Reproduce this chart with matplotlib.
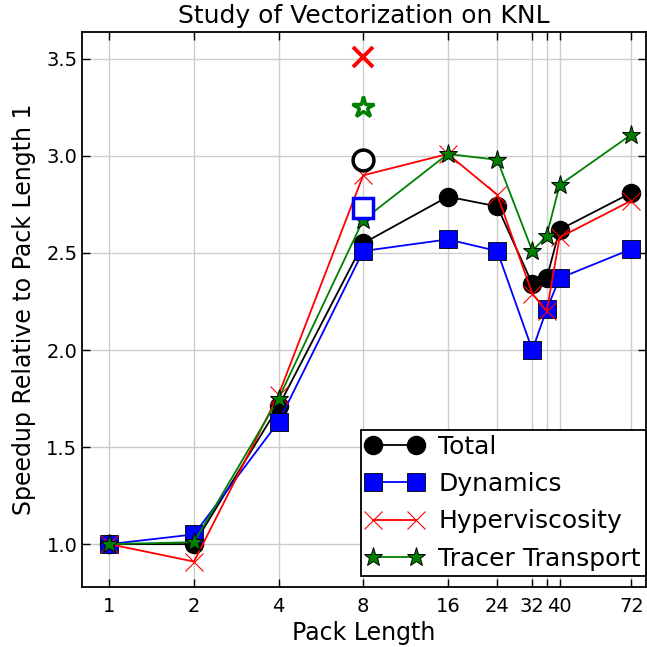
import matplotlib
matplotlib.use("Agg")
import matplotlib.pyplot as plt
from matplotlib.ticker import FixedLocator, NullLocator

# pack lengths and speedups relative to pack length 1
pack = [1, 2, 4, 8, 16, 24, 32, 36, 40, 72]
total = [1.00, 1.00, 1.71, 2.55, 2.79, 2.74, 2.34, 2.37, 2.62, 2.81]
dynamics = [1.00, 1.05, 1.63, 2.51, 2.57, 2.51, 2.00, 2.21, 2.37, 2.52]
hypervis = [1.00, 0.91, 1.77, 2.90, 3.01, 2.80, 2.29, 2.20, 2.58, 2.77]
tracer = [1.00, 1.01, 1.75, 2.67, 3.01, 2.98, 2.51, 2.59, 2.85, 3.11]

# extra runs at pack length 8 (open markers)
extra_x = 8
extra_total = 2.98
extra_dynamics = 2.73
extra_hypervis = 3.51
extra_tracer = 3.25

xtick_vals = [1, 2, 4, 8, 16, 24, 32, 36, 40, 72]
xtick_labels = ["1", "2", "4", "8", "16", "24", "32", "", "40", "72"]
ytick_vals = [1.0, 1.5, 2.0, 2.5, 3.0, 3.5]

plt.rcParams["font.family"] = "DejaVu Sans"

fig = plt.figure(figsize=(6.47, 6.47), dpi=100)
ax = fig.add_axes([0.127, 0.093, 0.871, 0.858])

ax.plot(pack, total, "-o", color="black", lw=1.3, ms=13, mfc="black", mec="black", label="Total")
ax.plot(pack, dynamics, "-s", color="blue", lw=1.3, ms=13, mfc="blue", mec="black", mew=0.6, label="Dynamics")
ax.plot(pack, hypervis, "-x", color="red", lw=1.3, ms=13, mew=0.8, label="Hyperviscosity")
ax.plot(pack, tracer, "-*", color="green", lw=1.3, ms=14, mfc="green", mec="black", mew=0.7, label="Tracer Transport")

ax.plot([extra_x], [extra_total], "o", ms=15, mfc="white", mec="black", mew=2.5)
ax.plot([extra_x], [extra_dynamics], "s", ms=15, mfc="white", mec="blue", mew=2.5)
ax.plot([extra_x], [extra_hypervis], "x", ms=14, mec="red", mew=2.8)
ax.plot([extra_x], [extra_tracer], "*", ms=16, mfc="white", mec="green", mew=2.5)

ax.set_xscale("log", base=2)
ax.set_xlim(0.8, 81)
ax.xaxis.set_major_locator(FixedLocator(xtick_vals))
ax.xaxis.set_minor_locator(NullLocator())
ax.set_xticks(xtick_vals)
ax.set_xticklabels(xtick_labels)
ax.set_yticks(ytick_vals)
ax.set_yticklabels([f"{v:.1f}" for v in ytick_vals])

ax.tick_params(axis="both", which="major", direction="in", length=6, width=1,
               top=True, right=True, labelsize=14)
ax.tick_params(axis="x", pad=7)
ax.tick_params(axis="y", pad=3.5)
for s in ax.spines.values():
    s.set_linewidth(1.3)

ax.grid(True, color="#cccccc", lw=1)
ax.set_axisbelow(True)

ax.set_title("Study of Vectorization on KNL", fontsize=18, pad=6)
ax.set_xlabel("Pack Length", fontsize=17)
ax.set_ylabel("Speedup Relative to Pack Length 1", fontsize=17, labelpad=7)

leg = ax.legend(loc="lower right", bbox_to_anchor=(1.0, 0.02), numpoints=2, fontsize=18,
                fancybox=False, framealpha=1, edgecolor="black", borderaxespad=0.0,
                handlelength=2.3, labelspacing=0.53, handletextpad=0.6, borderpad=0.2)
leg.get_frame().set_linewidth(1.3)

fig.savefig("out.png", dpi=100)
plt.close(fig)
